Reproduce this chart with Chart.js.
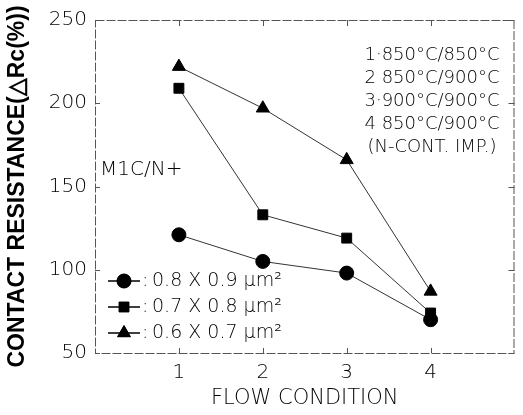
<!DOCTYPE html>
<html>
<head>
<meta charset="utf-8">
<script src="https://cdn.jsdelivr.net/npm/chart.js@4"></script>
<style>
  html, body { margin: 0; padding: 0; background: #fff; }
  #wrap { width: 523px; height: 415px; }
</style>
</head>
<body>
<div id="wrap"><canvas id="rcChart" width="523" height="415"></canvas></div>
<script>
// flow conditions on the x axis
const flowConditions = [1, 2, 3, 4];

// contact resistance change (%)
const rc08x09 = [121, 105, 98, 70];
const rc07x08 = [209, 133, 119, 74];
const rc06x07 = [222, 197, 166, 87];

const seriesLabels = ['0.8 X 0.9 \u00b5m\u00b2', '0.7 X 0.8 \u00b5m\u00b2', '0.6 X 0.7 \u00b5m\u00b2'];
const conditionNotes = [
    '1\u00b7850\u00b0C/850\u00b0C',
    '2 850\u00b0C/900\u00b0C',
    '3\u00b7900\u00b0C/900\u00b0C',
    '4 850\u00b0C/900\u00b0C',
    '(N-CONT. IMP.)'
];
const yTicks = [50, 100, 150, 200, 250];

const thin = 'DejaVu Sans';
const tickFont = { family: thin, size: 20, weight: 300 };
const ink = '#000';

function toPoints(vals) {
    return flowConditions.map((x, i) => ({ x: x, y: vals[i] }));
}

const styles = ['circle', 'rect', 'triangle'];
const radii = [7, 7, 7.5];

const datasets = [rc08x09, rc07x08, rc06x07].map((vals, i) => ({
    label: seriesLabels[i],
    data: toPoints(vals),
    borderColor: '#333',
    backgroundColor: ink,
    borderWidth: 1,
    pointStyle: styles[i],
    pointRadius: radii[i],
    pointBackgroundColor: ink,
    pointBorderColor: ink,
    showLine: true,
    tension: 0
}));

// frame, inward ticks, notes and the little legend
const decor = {
    id: 'decor',
    afterDraw(chart) {
        const c = chart.ctx;
        const a = chart.chartArea;
        const xs = chart.scales.x, ys = chart.scales.y;
        c.save();
        c.strokeStyle = '#555';
        c.lineWidth = 1;
        c.setLineDash([9, 2]);
        c.strokeRect(a.left + 0.5, a.top + 0.5, a.right - a.left - 1, a.bottom - a.top);
        c.setLineDash([]);
        flowConditions.forEach(v => {
            const px = Math.round(xs.getPixelForValue(v)) + 0.5;
            c.beginPath(); c.moveTo(px, a.top); c.lineTo(px, a.top + 6); c.stroke();
            c.beginPath(); c.moveTo(px, a.bottom); c.lineTo(px, a.bottom - 5); c.stroke();
        });
        yTicks.forEach(v => {
            const py = Math.round(ys.getPixelForValue(v)) + 0.5;
            c.beginPath(); c.moveTo(a.left, py); c.lineTo(a.left + 5, py); c.stroke();
            c.beginPath(); c.moveTo(a.right, py); c.lineTo(a.right - 6, py); c.stroke();
        });

        c.fillStyle = ink;
        c.textBaseline = 'middle';
        c.font = '300 18px "DejaVu Sans"';
        c.textAlign = 'center';
        conditionNotes.forEach((t, i) => {
            c.fillText(t, 432, 55 + i * 23);
        });

        c.textAlign = 'left';
        c.font = '300 20px "DejaVu Sans"';
        c.fillText('M1C/N+', 100, 170);

        c.font = '300 19px "DejaVu Sans"';
        c.strokeStyle = ink;
        c.lineWidth = 1.5;
        chart.data.datasets.forEach((ds, i) => {
            const y = 281 + i * 26;
            c.beginPath(); c.moveTo(108, y); c.lineTo(140, y); c.stroke();
            c.lineWidth = 1;
            Chart.helpers.drawPoint(c, { pointStyle: ds.pointStyle, radius: ds.pointRadius, borderWidth: 1 }, 124, y);
            c.fill();
            c.lineWidth = 1.5;
            c.fillText(':', 142, y);
            c.fillText(ds.label, 152, y);
        });
        c.restore();
    }
};

new Chart(document.getElementById('rcChart').getContext('2d'), {
    type: 'scatter',
    data: { datasets: datasets },
    options: {
        responsive: false,
        animation: false,
        layout: { padding: { top: 17, right: 3, left: 0, bottom: 0 } },
        plugins: {
            legend: { display: false },
            tooltip: { enabled: false }
        },
        scales: {
            x: {
                type: 'linear',
                min: 0,
                max: 5,
                afterFit: s => { s.height = 62; },
                grid: { display: false, drawTicks: false },
                border: { display: false },
                ticks: {
                    stepSize: 1,
                    color: ink,
                    font: tickFont,
                    padding: 8,
                    callback: v => flowConditions.includes(v) ? String(v) : ''
                },
                title: {
                    display: true,
                    text: 'FLOW CONDITION',
                    color: ink,
                    font: { family: thin, size: 21, weight: 300 },
                    padding: { top: 0 }
                }
            },
            y: {
                min: 50,
                max: 250,
                afterFit: s => { s.width = 95; },
                grid: { display: false, drawTicks: false },
                border: { display: false },
                afterBuildTicks: s => { s.ticks = yTicks.map(v => ({ value: v })); },
                ticks: {
                    color: ink,
                    font: tickFont,
                    padding: 8
                },
                title: {
                    display: true,
                    text: 'CONTACT RESISTANCE(\u25b3Rc(%))',
                    color: ink,
                    font: { family: 'Liberation Sans', size: 23, weight: 'bold' },
                    padding: { bottom: 0 }
                }
            }
        }
    },
    plugins: [decor]
});
</script>
</body>
</html>
